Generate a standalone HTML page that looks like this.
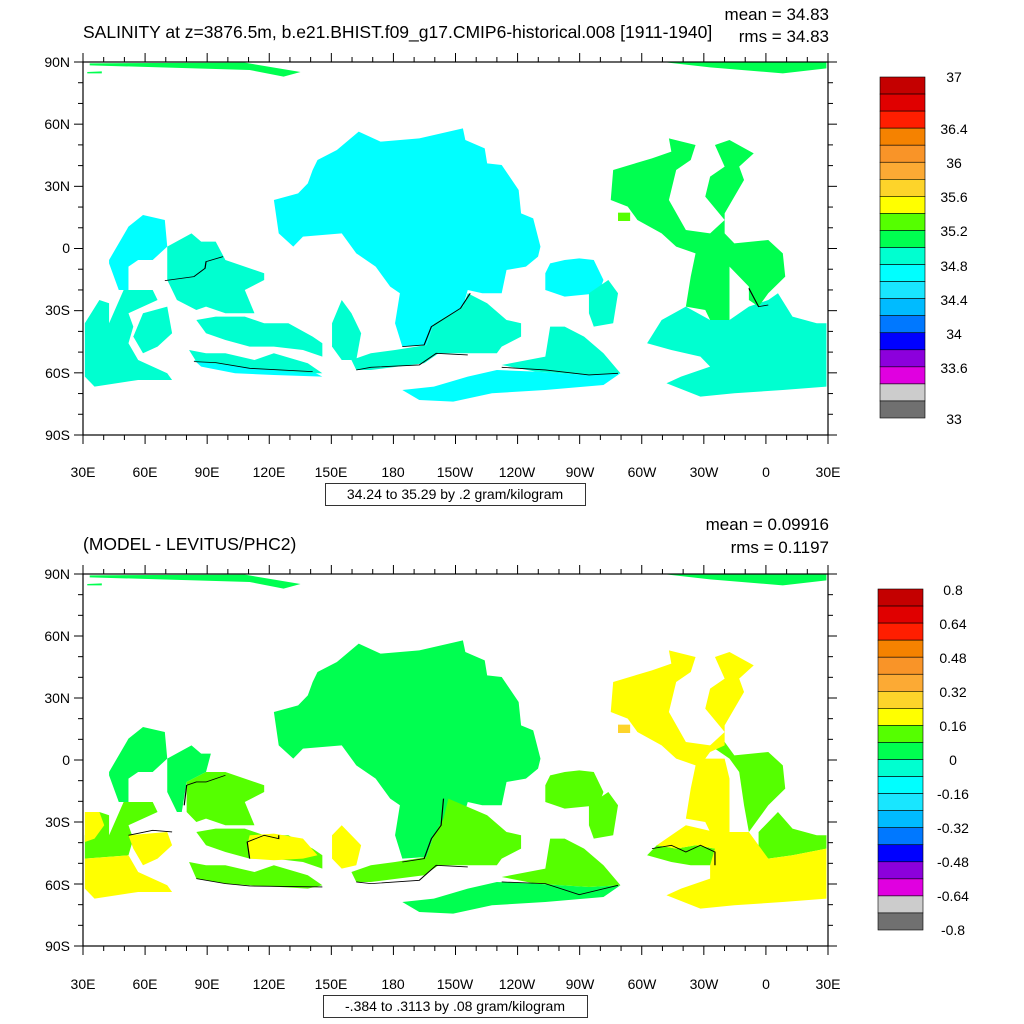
<!DOCTYPE html>
<html><head><meta charset="utf-8"><style>
body{margin:0;background:#fff;}
svg{display:block;font-family:"Liberation Sans",sans-serif;}
</style></head><body>
<svg id="s" width="1024" height="1024" viewBox="0 0 1024 1024" xmlns="http://www.w3.org/2000/svg">
<rect width="1024" height="1024" fill="#fff"/>
<defs>
<g id="arctic">
<polygon points="20,10 340,8 455,36 420,50 350,30 20,16"/>
<polygon points="15,36 45,34 45,40 15,40"/>
<polygon points="1195,5 1540,5 1540,25 1450,40 1300,22"/>
</g>
</defs>

<!-- TOP MAP -->
<g transform="translate(80,60) scale(0.4847,0.3333)">
<g fill="#00FF50"><use href="#arctic"/></g>
<g fill="#00FFFF">
<polygon points="575,215 620,245 700,235 790,205 795,240 835,265 840,310 870,315 905,390 910,460 935,475 950,560 945,590 920,620 880,630 870,700 830,700 800,690 790,740 730,790 715,855 665,860 650,790 660,700 640,680 610,620 570,580 540,520 460,530 440,560 410,520 400,420 450,400 470,370 480,330 490,300 530,270"/>
<polygon points="665,990 730,980 800,950 860,930 940,935 1050,945 1115,940 1080,975 960,990 850,1000 770,1025 700,1020"/>
<polygon points="60,600 100,500 130,465 175,480 180,560 150,600 120,600 100,620 100,690 80,690 60,610"/>
<polygon points="235,900 280,910 350,925 480,935 500,950 400,945 320,940 250,920"/>
<polygon points="970,610 1000,600 1030,595 1060,600 1080,660 1070,700 1000,710 960,690 960,640"/>
</g>
<g fill="#00FFD0">
<polygon points="800,700 840,730 880,780 910,790 910,830 870,860 860,880 800,880 740,880 710,910 600,930 570,930 560,900 600,880 650,870 715,855 730,790 790,740"/>
<polygon points="870,915 960,890 970,800 1000,800 1040,830 1080,880 1115,940 1050,945 940,935"/>
<polygon points="180,560 230,520 250,545 280,545 300,600 380,640 380,660 340,690 360,760 300,760 260,740 240,750 200,720 180,660"/>
<polygon points="10,790 40,720 60,730 60,790 90,690 150,690 160,720 100,760 110,800 100,850 120,900 180,940 190,960 120,960 30,980 10,950"/>
<polygon points="130,760 180,740 190,820 160,860 130,880 110,830"/>
<polygon points="240,780 280,770 340,770 380,790 430,790 480,830 500,850 500,890 460,870 400,860 350,860 300,840 260,820"/>
<polygon points="225,870 260,880 300,880 360,900 400,880 470,910 500,940 470,940 350,925 300,915 240,905"/>
<polygon points="520,790 540,720 560,760 580,820 570,900 540,900 520,860"/>
<polygon points="1050,700 1090,660 1110,700 1100,790 1060,800 1050,760"/>
<polygon points="1170,850 1200,780 1250,740 1300,780 1340,780 1380,740 1420,720 1440,700 1470,770 1520,790 1540,790 1540,980 1450,990 1350,1000 1280,1010 1210,970 1240,950 1300,920 1280,890 1220,870"/>
</g>
<g fill="#00FF50">
<polygon points="1100,330 1180,295 1220,275 1215,235 1270,255 1260,300 1230,330 1215,420 1250,510 1300,520 1330,480 1290,410 1300,350 1330,320 1310,255 1340,240 1390,280 1360,320 1370,360 1330,460 1330,520 1350,550 1420,540 1450,580 1455,650 1420,700 1400,740 1380,720 1380,680 1340,620 1340,780 1300,780 1290,750 1250,740 1260,650 1270,580 1230,560 1200,520 1150,480 1130,440 1095,420"/>
</g>
<rect x="1110" y="458" width="25" height="25" fill="#55FF00"/>
<g fill="none" stroke="#000" stroke-width="2.5">
<polyline points="175,662 235,650 258,625 260,605 295,590"/>
<polyline points="235,905 280,908 350,925 480,935"/>
<polyline points="570,930 600,922 700,915 735,880 800,885"/>
<polyline points="665,860 710,855 725,800 785,745 805,700"/>
<polyline points="870,922 960,930 1050,945 1110,940"/>
<polyline points="1380,685 1400,740 1420,735"/>
</g>
</g>

<!-- BOTTOM MAP -->
<g transform="translate(80,572) scale(0.4847,0.3333)">
<g fill="#00FF50"><use href="#arctic"/></g>
<g fill="#00FF50">
<polygon points="575,215 620,245 700,235 790,205 795,240 835,265 840,310 870,315 905,390 910,460 935,475 950,560 945,590 920,620 880,630 870,700 830,700 800,690 790,740 730,790 715,855 665,860 650,790 660,700 640,680 610,620 570,580 540,520 460,530 440,560 410,520 400,420 450,400 470,370 480,330 490,300 530,270"/>
<polygon points="665,990 730,980 800,950 860,930 940,935 1050,945 1115,940 1080,975 960,990 850,1000 770,1025 700,1020"/>
<polygon points="60,600 100,500 130,465 175,480 180,560 150,600 120,600 100,620 100,690 80,690 60,610"/>
<polygon points="180,560 230,520 250,545 270,545 260,600 220,630 210,720 200,720 180,660"/>
</g>
<g fill="#55FF00">
<polygon points="760,680 840,730 880,780 910,790 910,830 870,860 860,880 800,880 740,880 710,910 600,930 570,930 560,900 600,880 650,870 715,855 730,790 750,740"/>
<polygon points="870,915 960,890 970,800 1000,800 1040,830 1080,880 1115,940 1050,945 940,935"/>
<polygon points="260,600 300,600 380,640 380,660 340,690 360,760 300,760 260,740 240,750 220,720 220,630"/>
<polygon points="10,790 40,720 60,730 60,790 90,690 150,690 160,720 100,760 110,800 100,850 10,860"/>
<polygon points="240,780 280,770 340,770 380,790 430,790 480,830 500,850 500,890 460,870 400,860 350,860 300,840 260,820"/>
<polygon points="225,870 260,880 300,880 360,900 400,880 470,910 500,940 470,950 350,940 300,935 240,920"/>
<polygon points="1050,700 1090,660 1110,700 1100,790 1060,800 1050,760"/>
<polygon points="970,610 1000,600 1030,595 1060,600 1080,660 1070,700 1000,710 960,690 960,640"/>
<polygon points="1300,520 1330,510 1350,550 1420,540 1450,580 1455,650 1420,700 1400,740 1380,780 1370,700 1360,600 1340,560"/>
<polygon points="1400,780 1440,720 1470,770 1520,790 1540,790 1540,830 1470,850 1420,860 1400,830"/>
<polygon points="1170,850 1190,820 1230,830 1270,820 1310,830 1310,880 1260,880 1220,870"/>
</g>
<g fill="#FFFF00">
<polygon points="1100,330 1180,295 1220,275 1215,235 1270,255 1260,300 1230,330 1215,420 1250,510 1300,520 1330,480 1290,410 1300,350 1330,320 1310,255 1340,240 1390,280 1360,320 1370,360 1330,460 1330,520 1300,540 1290,560 1330,560 1340,620 1340,780 1300,780 1290,750 1250,740 1260,650 1270,580 1230,560 1200,520 1150,480 1130,440 1095,420"/>
<polygon points="1190,820 1250,760 1310,780 1340,780 1380,780 1420,860 1470,850 1540,830 1540,980 1450,990 1350,1000 1280,1010 1210,970 1240,950 1300,920 1300,880 1310,830 1270,820 1230,830"/>
<polygon points="10,860 100,850 120,900 180,940 190,960 120,960 30,980 10,950"/>
<polygon points="100,790 180,780 190,820 160,860 130,880 110,830"/>
<polygon points="350,790 400,785 460,800 490,850 460,860 400,865 350,860 345,820"/>
<polygon points="520,790 540,760 560,790 580,820 570,880 540,890 520,860"/>
<polygon points="10,720 40,720 50,760 30,800 10,810"/>
</g>
<rect x="1110" y="458" width="25" height="25" fill="#FDD42A"/>
<g fill="none" stroke="#000" stroke-width="2.5">
<polyline points="240,920 300,935 350,942 500,945"/>
<polyline points="570,930 600,935 700,925 735,880 800,885"/>
<polyline points="665,870 710,860 725,800 745,760 750,680"/>
<polyline points="870,930 960,935 1030,968 1110,940"/>
<polyline points="1180,830 1220,820 1250,840 1280,820 1310,840 1310,880"/>
<polyline points="100,790 150,775 190,780"/>
<polyline points="350,860 345,810 380,790 410,800 410,790"/>
<polyline points="215,700 220,640 240,630 260,630 300,610"/>
</g>
</g>

<!-- frames -->
<rect x="83" y="62" width="745" height="373" fill="none" stroke="#000" stroke-width="1.2"/>
<rect x="83" y="574" width="745" height="372" fill="none" stroke="#000" stroke-width="1.2"/>
<g id="ticks" stroke="#000" stroke-width="1"></g>
<g id="cbars"></g>

<g font-size="14" fill="#000">
<text x="83" y="38" font-size="17.5">SALINITY at z=3876.5m, b.e21.BHIST.f09_g17.CMIP6-historical.008 [1911-1940]</text>
<text x="829" y="20" font-size="17" text-anchor="end">mean = 34.83</text>
<text x="829" y="42" font-size="17" text-anchor="end">rms = 34.83</text>
<text x="83" y="550" font-size="17.5">(MODEL - LEVITUS/PHC2)</text>
<text x="829" y="530" font-size="17" text-anchor="end">mean = 0.09916</text>
<text x="829" y="553" font-size="17" text-anchor="end">rms = 0.1197</text>

<g text-anchor="end">
<text x="70" y="67">90N</text><text x="70" y="129">60N</text><text x="70" y="191">30N</text><text x="70" y="253">0</text><text x="70" y="315">30S</text><text x="70" y="378">60S</text><text x="70" y="440">90S</text>
<text x="70" y="579">90N</text><text x="70" y="641">60N</text><text x="70" y="703">30N</text><text x="70" y="765">0</text><text x="70" y="827">30S</text><text x="70" y="890">60S</text><text x="70" y="951">90S</text>
</g>
<g text-anchor="middle">
<text x="83" y="477">30E</text><text x="145" y="477">60E</text><text x="207" y="477">90E</text><text x="269" y="477">120E</text><text x="331" y="477">150E</text><text x="393" y="477">180</text><text x="455" y="477">150W</text><text x="517" y="477">120W</text><text x="580" y="477">90W</text><text x="642" y="477">60W</text><text x="704" y="477">30W</text><text x="766" y="477">0</text><text x="828" y="477">30E</text>
<text x="83" y="989">30E</text><text x="145" y="989">60E</text><text x="207" y="989">90E</text><text x="269" y="989">120E</text><text x="331" y="989">150E</text><text x="393" y="989">180</text><text x="455" y="989">150W</text><text x="517" y="989">120W</text><text x="580" y="989">90W</text><text x="642" y="989">60W</text><text x="704" y="989">30W</text><text x="766" y="989">0</text><text x="828" y="989">30E</text>
</g>
<rect x="325.5" y="483.5" width="260" height="22" fill="#fff" stroke="#000" stroke-width="0.8"/>
<text x="455" y="499" text-anchor="middle">34.24 to 35.29 by .2 gram/kilogram</text>
<rect x="323.5" y="995.5" width="264" height="22" fill="#fff" stroke="#000" stroke-width="0.8"/>
<text x="455" y="1011" text-anchor="middle">-.384 to .3113 by .08 gram/kilogram</text>

<g text-anchor="middle">
<text x="954" y="82">37</text><text x="954" y="134">36.4</text><text x="954" y="168">36</text><text x="954" y="202">35.6</text><text x="954" y="236">35.2</text><text x="954" y="271">34.8</text><text x="954" y="305">34.4</text><text x="954" y="339">34</text><text x="954" y="373">33.6</text><text x="954" y="424">33</text>
<text x="953" y="595">0.8</text><text x="953" y="629">0.64</text><text x="953" y="663">0.48</text><text x="953" y="697">0.32</text><text x="953" y="731">0.16</text><text x="953" y="765">0</text><text x="953" y="799">-0.16</text><text x="953" y="833">-0.32</text><text x="953" y="867">-0.48</text><text x="953" y="901">-0.64</text><text x="953" y="935">-0.8</text>
</g>
</g>
</svg>
<script>
(function(){
var NS="http://www.w3.org/2000/svg";
function ln(g,x1,y1,x2,y2){var l=document.createElementNS(NS,"line");l.setAttribute("x1",x1);l.setAttribute("y1",y1);l.setAttribute("x2",x2);l.setAttribute("y2",y2);g.appendChild(l);}
var T=document.getElementById("ticks");
[[62,435],[574,946]].forEach(function(f){
  var y0=f[0],y1=f[1],h=y1-y0;
  for(var i=0;i<=36;i++){var x=83+745*i/36,L=(i%3==0)?9:5;ln(T,x,y1,x,y1+L);ln(T,x,y0,x,y0-L);}
  for(var j=0;j<=18;j++){var y=y0+h*j/18,L=(j%3==0)?9:5;ln(T,83,y,83-L,y);ln(T,828,y,828+L,y);}
});
var C=document.getElementById("cbars");
var cols=["#C40000","#E00000","#FF1E00","#F58200","#F99428","#FCAA34","#FDD42A","#FFFF00","#55FF00","#00FF50","#00FFD0","#00FFFF","#19E6FF","#00BBFF","#0078FF","#0000FF","#8C00DC","#E000E0","#CCCCCC","#707070"];
function bar(x,y0,y1){var h=(y1-y0)/20;for(var i=0;i<20;i++){var r=document.createElementNS(NS,"rect");r.setAttribute("x",x);r.setAttribute("y",y0+i*h);r.setAttribute("width",45);r.setAttribute("height",h);r.setAttribute("fill",cols[i]);r.setAttribute("stroke","#000");r.setAttribute("stroke-width","0.6");C.appendChild(r);}}
bar(880,77,418);bar(878,589,930);
})();
</script>
</body></html>
